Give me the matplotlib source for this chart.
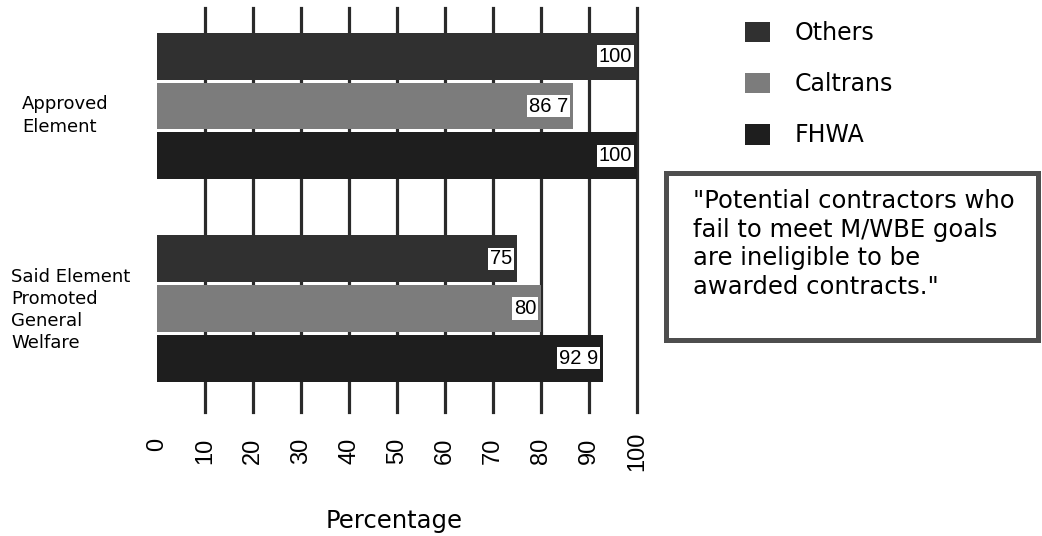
import matplotlib
matplotlib.use("Agg")
import matplotlib.pyplot as plt
from matplotlib.patches import Patch, Rectangle
import numpy as np

plt.rcParams['font.family'] = ['DejaVu Sans']

categories = ["Approved\nElement", "Said Element\nPromoted\nGeneral\nWelfare"]
series = ["Others", "Caltrans", "FHWA"]
others = [100, 75]
caltrans = [86.7, 80]
fhwa = [100, 92.9]
value_labels = [["100", "75"], ["86 7", "80"], ["100", "92 9"]]
xticks = [0, 10, 20, 30, 40, 50, 60, 70, 80, 90, 100]
colors = ["#303030", "#7c7c7c", "#1e1e1e"]
note = "\"Potential contractors who\nfail to meet M/WBE goals\nare ineligible to be\nawarded contracts.\""

W, H = 1042, 536
fig = plt.figure(figsize=(W / 100, H / 100), dpi=100)
ax = fig.add_axes([157 / W, 1 - 412 / H, 480 / W, 404 / H])

offset = 0.2457
height = 0.23
ypos = np.arange(len(categories))
for gx in xticks[1:]:
    ax.axvline(gx, color="#2a2a2a", lw=2.3, zorder=0, clip_on=False)

for i, (vals, c) in enumerate(zip([others, caltrans, fhwa], colors)):
    yy = ypos + (i - 1) * offset
    ax.barh(yy, vals, height=height, color=c, zorder=2, clip_on=False)
    for y, v, lab in zip(yy, vals, value_labels[i]):
        ax.text(v - 1.0, y, lab, ha="right", va="center", fontsize=14.5, color="black", zorder=3,
                family="Liberation Sans",
                bbox=dict(boxstyle="square,pad=0.08", fc="white", ec="none"))

ax.set_xlim(0, 100)
ax.set_ylim(1 + 103.5 / 202.5, -98 / 202.5)
ax.set_xticks(xticks)
ax.set_xticklabels([str(t) for t in xticks], rotation=90, fontsize=17,
                   family="Liberation Sans", ha="center", va="center", rotation_mode="anchor")
ax.get_xticklabels()[0].set_ha("left")
ax.tick_params(axis="x", length=0, pad=28)
ax.set_yticks([])
for s in ax.spines.values():
    s.set_visible(False)
ax.set_xlabel("Percentage", fontsize=17.5, va="baseline")
ax.xaxis.set_label_coords((394.5 - 157) / 480, (8 - 124) / 404)

# category labels, left aligned
fig.text(22 / W, 1 - 115.5 / H, categories[0], ha="left", va="center", fontsize=13, linespacing=1.3)
fig.text(11 / W, 1 - 310 / H, categories[1], ha="left", va="center", fontsize=13, linespacing=1.3)

handles = [Patch(facecolor=c, edgecolor="none") for c in colors]
fig.legend(handles, series, loc="upper left", bbox_to_anchor=(745 / W, 1 - 21 / H),
           frameon=False, fontsize=17, handlelength=1.05, handleheight=0.97,
           handletextpad=1.05, labelspacing=1.15, borderpad=0, borderaxespad=0)

fig.patches.append(Rectangle((665.5 / W, 1 - 339.5 / H), 372 / W, 167 / H,
                             transform=fig.transFigure, fill=False, ec="#4e4e4e", lw=3.6))
fig.text(693 / W, 1 - 189 / H, note, ha="left", va="top", fontsize=17.5, linespacing=1.25)

fig.savefig("out.png", dpi=100)
